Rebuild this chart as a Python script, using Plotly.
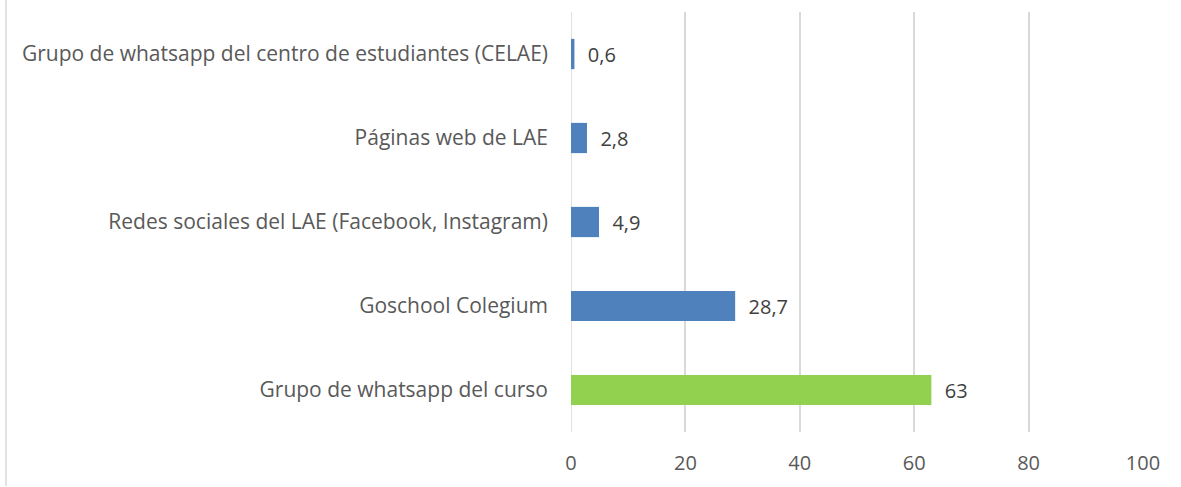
import plotly.graph_objects as go

categories = [
    "Grupo de whatsapp del curso",
    "Goschool Colegium",
    "Redes sociales del LAE (Facebook, Instagram)",
    "Páginas web de LAE",
    "Grupo de whatsapp del centro de estudiantes (CELAE)",
]
values = [63, 28.7, 4.9, 2.8, 0.6]
value_labels = ["63", "28,7", "4,9", "2,8", "0,6"]
colors = ["#92d050", "#4f81bd", "#4f81bd", "#4f81bd", "#4f81bd"]
x_ticks = [0, 20, 40, 60, 80, 100]

FONT = "Open Sans, sans-serif"

fig = go.Figure(go.Bar(
    y=categories,
    x=values,
    orientation="h",
    marker=dict(color=colors, line=dict(width=0)),
    text=["  " + t for t in value_labels],
    textposition="outside",
    textfont=dict(family=FONT, size=20, color="#404040"),
    cliponaxis=False,
    hoverinfo="skip",
))

L, R, T, B = 571, 38, 12, 55
PW = 1181 - L - R
PH = 487 - T - B

fig.update_layout(
    width=1181, height=487,
    margin=dict(l=L, r=R, t=T, b=B),
    paper_bgcolor="white", plot_bgcolor="white",
    bargap=0.64,
    showlegend=False,
    font=dict(family=FONT, size=20, color="#595959"),
    xaxis=dict(
        range=[0, 100], tickvals=x_ticks, showgrid=True,
        gridcolor="#d9d9d9", gridwidth=1.5, zeroline=False,
        showline=False, ticks="", ticklabelstandoff=17,
        tickfont=dict(family=FONT, size=20, color="#595959"),
    ),
    yaxis=dict(
        showgrid=False, showline=False, ticks="", ticklabelstandoff=22,
        tickfont=dict(family=FONT, size=21, color="#595959"),
    ),
)
fig.add_shape(type="line", xref="x", yref="paper", x0=0, x1=0, y0=0, y1=1,
              line=dict(color="#d9d9d9", width=1.5), layer="below")
# chart-border line on the far left of the page
fig.add_shape(type="line", xref="paper", yref="paper",
              x0=-(L - 6) / PW, x1=-(L - 6) / PW, y0=-(B - 1) / PH, y1=1 + T / PH,
              line=dict(color="#d9d9d9", width=1.5))

fig.write_html("out.html", config={"displayModeBar": False},
               post_script="document.body.style.margin='0px';")
